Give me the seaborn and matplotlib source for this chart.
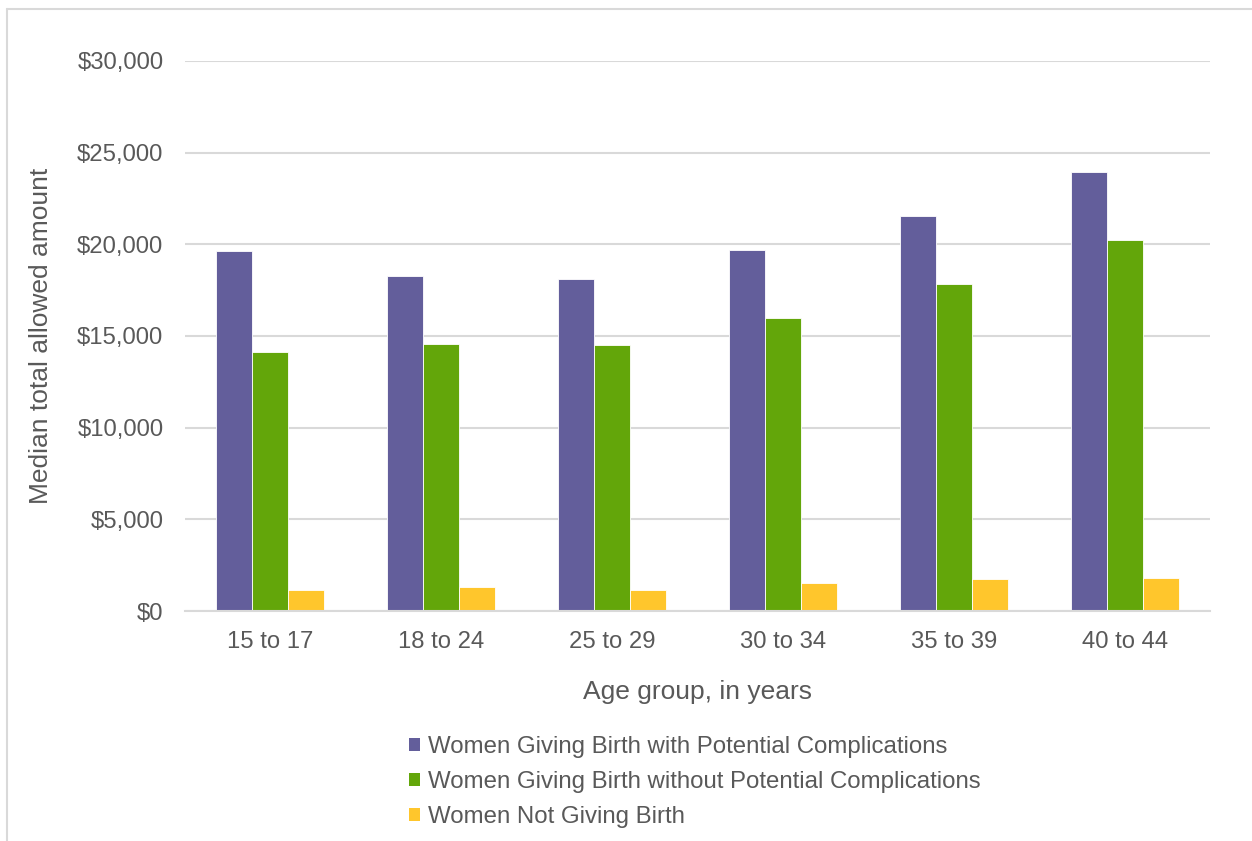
import matplotlib
matplotlib.use("Agg")
import matplotlib.pyplot as plt
import seaborn as sns
import pandas as pd
from matplotlib.patches import Patch
from matplotlib.lines import Line2D
from matplotlib.ticker import FuncFormatter

age_groups = ["15 to 17", "18 to 24", "25 to 29", "30 to 34", "35 to 39", "40 to 44"]
series_names = [
    "Women Giving Birth with Potential Complications",
    "Women Giving Birth without Potential Complications",
    "Women Not Giving Birth",
]
with_complications = [19610, 18250, 18090, 19700, 21570, 23920]
without_complications = [14150, 14560, 14530, 16000, 17820, 20250]
not_giving_birth = [1170, 1310, 1170, 1550, 1745, 1820]
colors = ["#635E9B", "#63A60A", "#FFC62C"]

values = [with_complications, without_complications, not_giving_birth]
rows = []
for name, vals in zip(series_names, values):
    for g, v in zip(age_groups, vals):
        rows.append({"Age": g, "Series": name, "Value": v})
df = pd.DataFrame(rows)

sns.set_theme(style="white")
plt.rcParams["font.family"] = ["Liberation Sans", "DejaVu Sans"]
text_color = "#595959"
grid_color = "#D9D9D9"

fig = plt.figure(figsize=(12.52, 8.41), dpi=100)
ax = fig.add_axes([185 / 1252, 1 - 611 / 841, (1210 - 185) / 1252, (611 - 61) / 841])

sns.barplot(data=df, x="Age", y="Value", hue="Series", order=age_groups,
            hue_order=series_names, palette=colors, width=0.632, gap=0,
            edgecolor="white", linewidth=0.6, saturation=1, ax=ax, legend=False)

ax.set_ylim(0, 30000)
ax.set_yticks(range(0, 30001, 5000))
ax.yaxis.set_major_formatter(FuncFormatter(lambda v, p: f"${int(v):,}"))
ax.grid(axis="y", color=grid_color, linewidth=1.5)
ax.set_axisbelow(True)
for s in ["top", "right", "left"]:
    ax.spines[s].set_visible(False)
ax.spines["bottom"].set_color(grid_color)
ax.spines["bottom"].set_linewidth(1.5)
ax.tick_params(axis="both", length=0, labelsize=17.2, colors=text_color)
ax.tick_params(axis="y", pad=15.5)
ax.tick_params(axis="x", pad=14.5)
ax.set_xlabel("Age group, in years", fontsize=19, color=text_color, labelpad=19)
ax.set_ylabel("Median total allowed amount", fontsize=19, color=text_color, labelpad=17)

handles = [Patch(facecolor=c, edgecolor="none") for c in colors]
leg = fig.legend(handles, series_names, loc="upper left",
                 bbox_to_anchor=(409 / 1252, 1 - 736 / 841), frameon=False,
                 fontsize=17.3, labelcolor=text_color, handlelength=0.47,
                 handleheight=0.47, handletextpad=0.3, labelspacing=0.54,
                 borderpad=0, borderaxespad=0)

# outer chart border (top and left visible)
fig.add_artist(Line2D([7 / 1252, 1.0], [1 - 9 / 841, 1 - 9 / 841],
                      transform=fig.transFigure, color=grid_color, linewidth=1.5))
fig.add_artist(Line2D([7 / 1252, 7 / 1252], [0, 1 - 9 / 841],
                      transform=fig.transFigure, color=grid_color, linewidth=1.5))

fig.savefig("out.png", dpi=100, facecolor="white")
